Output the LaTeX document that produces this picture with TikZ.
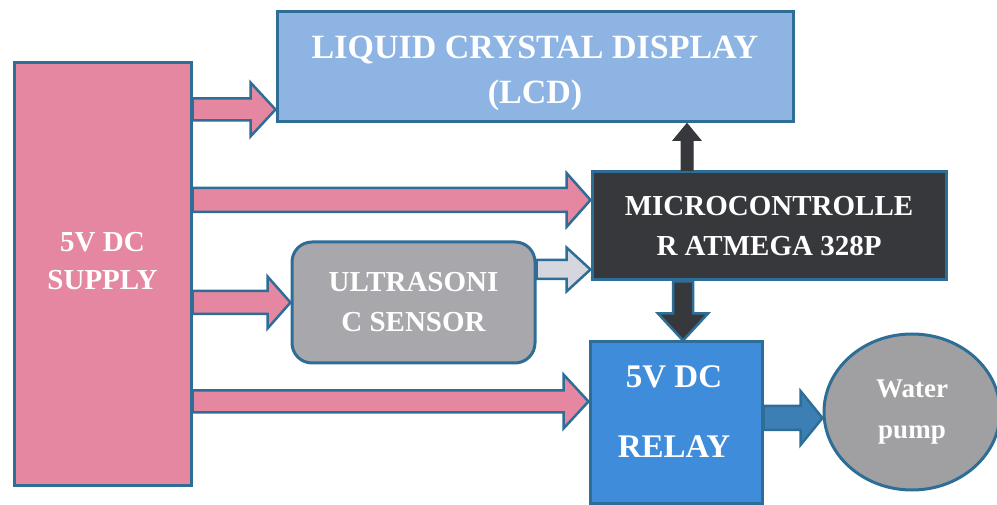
\documentclass[tikz,border=0pt]{standalone}
\usepackage{fontspec}
\setmainfont{Liberation Serif}
\usetikzlibrary{calc,shapes.geometric}
\definecolor{edge}{RGB}{46,110,150}
\definecolor{supplypink}{RGB}{229,135,160}
\definecolor{lcdblue}{RGB}{141,180,226}
\definecolor{mcugray}{RGB}{55,56,60}
\definecolor{ultgray}{RGB}{168,168,172}
\definecolor{relayblue}{RGB}{62,140,218}
\definecolor{pumpgray}{RGB}{160,160,162}
\definecolor{lightarrow}{RGB}{214,214,222}
\definecolor{pumparrow}{RGB}{60,127,181}
\begin{document}
\begin{tikzpicture}[x=1pt,y=1pt,
  box/.style={draw=edge,line width=3pt,inner sep=0pt,text=white,align=center},
  txt/.style={text=white,align=center,inner sep=0pt},
  fat/.style n args={3}{to path={
    let \p1=(\tikztostart), \p2=(\tikztotarget),
        \n1={atan2(\y2-\y1,\x2-\x1)} in
    ($(\p1)+(\n1+90:#1)$) -- ($(\p2)+(\n1+180:#3)+(\n1+90:#1)$)
    -- ($(\p2)+(\n1+180:#3)+(\n1+90:#2)$) -- (\p2)
    -- ($(\p2)+(\n1+180:#3)+(\n1-90:#2)$) -- ($(\p2)+(\n1+180:#3)+(\n1-90:#1)$)
    -- ($(\p1)+(\n1-90:#1)$) -- cycle}},
  power/.style={draw=edge,line width=2.5pt,fill=supplypink}]
  \useasboundingbox (0,0) rectangle (997,504);
  \node[box,fill=supplypink,minimum width=177,minimum height=422] (sup) at (102.5,230) {};
  \node[txt,font={\fontsize{29}{38}\selectfont\bfseries}] (sup-text) at (102.5,243) {5V DC\\SUPPLY};
  \node[box,fill=lcdblue,minimum width=516,minimum height=110] (lcd) at (535,437) {};
  \node[txt,font={\fontsize{34}{45}\selectfont\bfseries}] (lcd-text) at (535,431) {LIQUID CRYSTAL DISPLAY\\(LCD)};
  \node[box,fill=mcugray,minimum width=354,minimum height=108,
    font={\fontsize{29}{40}\selectfont\bfseries}] (mcu) at (769,278) {MICROCONTROLLE\\R ATMEGA 328P};
  \node[box,fill=ultgray,rounded corners=20pt,minimum width=243,minimum height=121,
    font={\fontsize{29}{40}\selectfont\bfseries}] (ult) at (413.5,201.5) {ULTRASONI\\C SENSOR};
  \node[box,fill=relayblue,minimum width=172,minimum height=161] (rel) at (676,81.5) {};
  \node[txt,font={\fontsize{33}{70}\selectfont\bfseries}] (rel-text) at (674,92) {5V DC\\RELAY};
  \node[box,ellipse,fill=pumpgray,minimum width=176,minimum height=156,
    font={\fontsize{27}{41}\selectfont\bfseries}] (pump) at (912,92) {Water\\pump};
  \coordinate (a1) at ($(lcd.south west)+(0,14)$);
  \coordinate (a2) at ($(mcu.west)+(0,26)$);
  \coordinate (a4) at ($(mcu.south west)+(0,12)$);
  \coordinate (a5) at ($(rel.west)+(0,21)$);
  \coordinate (a6) at ($(lcd.south)+(152,0)$);
  \coordinate (a7) at ($(rel.north)+(7,0)$);
  \coordinate (a8) at ($(pump.west)+(0,-6)$);
  \draw[power] (sup.east |- a1) to[fat={11pt}{27pt}{25pt}] (a1);
  \draw[power] (sup.east |- a2) to[fat={12pt}{27pt}{24pt}] (a2);
  \draw[power] (sup.east |- ult.west) to[fat={11.5pt}{26pt}{23pt}] (ult.west);
  \draw[power] (sup.east |- a5) to[fat={11pt}{27pt}{25pt}] (a5);
  \draw[power,fill=lightarrow] (ult.east |- a4) to[fat={9.5pt}{22pt}{24pt}] (a4);
  \draw[draw=mcugray,line width=1pt,fill=mcugray] (mcu.north -| a6) to[fat={6pt}{14pt}{17pt}] (a6);
  \draw[power,fill=mcugray] (mcu.south -| a7) to[fat={10pt}{25pt}{27pt}] (a7);
  \draw[power,fill=pumparrow] (rel.east |- a8) to[fat={12pt}{27pt}{22pt}] (a8);
\end{tikzpicture}
\end{document}
